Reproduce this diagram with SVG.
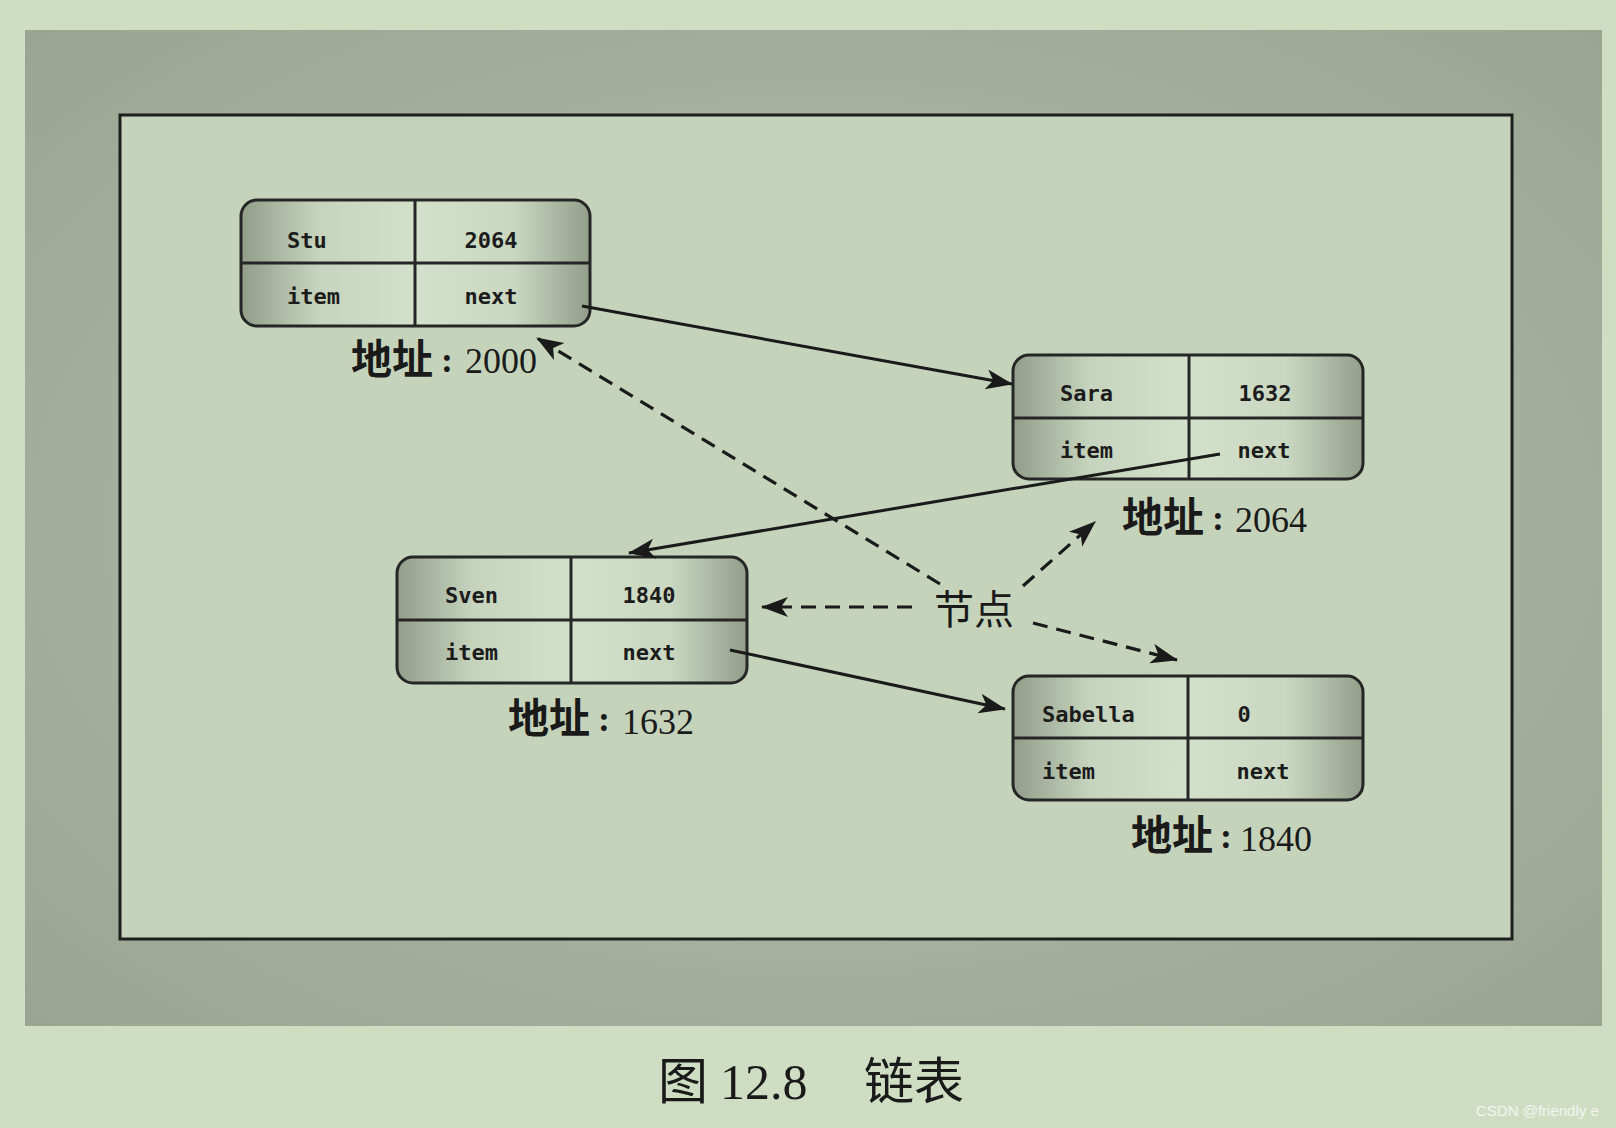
<svg xmlns="http://www.w3.org/2000/svg" width="1616" height="1128" viewBox="0 0 1616 1128">
<style>
.cell{font-family:"DejaVu Sans Mono","Liberation Mono",monospace;font-size:22px;font-weight:bold;fill:#1c1c1c}
.cjk{font-family:"Noto Sans CJK SC",sans-serif;font-weight:bold;font-size:41px;fill:#1a1a1a}
.colon{font-family:"Liberation Serif",serif;font-weight:bold;font-size:36px;fill:#1a1a1a}
.num{font-family:"Liberation Serif",serif;font-size:36px;fill:#1a1a1a}
.box{stroke:#262626;stroke-width:3;fill:url(#nodeGrad)}
.div{stroke:#262626;stroke-width:3}
.solid{stroke:#1a1a1a;stroke-width:3;fill:none;marker-end:url(#arrow)}
.dash{stroke:#1a1a1a;stroke-width:3.2;fill:none;stroke-dasharray:15 9;marker-end:url(#arrow)}
</style>
<defs>
<linearGradient id="nodeGrad" x1="0" y1="0" x2="1" y2="0">
<stop offset="0" stop-color="#929d8a"/>
<stop offset="0.22" stop-color="#c6d4bd"/>
<stop offset="0.5" stop-color="#d3e1ca"/>
<stop offset="0.78" stop-color="#cad8c1"/>
<stop offset="1" stop-color="#939e8b"/>
</linearGradient>
<radialGradient id="frameGrad" cx="0.5" cy="0.5" r="0.75">
<stop offset="0.55" stop-color="#a6b09e"/>
<stop offset="1" stop-color="#98a390"/>
</radialGradient>
<marker id="arrow" markerUnits="userSpaceOnUse" markerWidth="30" markerHeight="22" refX="26" refY="10" orient="auto">
<path d="M0,0 L27,10 L0,20 L7,10 z" fill="#1a1a1a"/>
</marker>
</defs>
<rect x="0" y="0" width="1616" height="1128" fill="#cfdec3"/>
<rect x="25" y="30" width="1577" height="996" fill="url(#frameGrad)"/>
<rect x="120" y="115" width="1392" height="824" fill="#c5d3bb" stroke="#1e1e1e" stroke-width="3"/>

<g id="node-stu">
<rect class="box" x="241" y="200" width="349" height="126" rx="16"/>
<line class="div" x1="415" y1="200" x2="415" y2="326"/>
<line class="div" x1="241" y1="263" x2="590" y2="263"/>
<text class="cell" x="287" y="248">Stu</text>
<text class="cell" x="491" y="248" text-anchor="middle">2064</text>
<text class="cell" x="287" y="304">item</text>
<text class="cell" x="491" y="304" text-anchor="middle">next</text>
<text class="cjk" x="351" y="374">地址</text>
<text class="colon" x="441" y="372">:</text>
<text class="num" x="465" y="373">2000</text>
</g>

<g id="node-sara">
<rect class="box" x="1013" y="355" width="350" height="124" rx="16"/>
<line class="div" x1="1189" y1="355" x2="1189" y2="479"/>
<line class="div" x1="1013" y1="418" x2="1363" y2="418"/>
<text class="cell" x="1060" y="401">Sara</text>
<text class="cell" x="1265" y="401" text-anchor="middle">1632</text>
<text class="cell" x="1060" y="458">item</text>
<text class="cell" x="1264" y="458" text-anchor="middle">next</text>
<text class="cjk" x="1122" y="532">地址</text>
<text class="colon" x="1212" y="530">:</text>
<text class="num" x="1235" y="532">2064</text>
</g>

<g id="node-sven">
<rect class="box" x="397" y="557" width="350" height="126" rx="16"/>
<line class="div" x1="571" y1="557" x2="571" y2="683"/>
<line class="div" x1="397" y1="620" x2="747" y2="620"/>
<text class="cell" x="445" y="603">Sven</text>
<text class="cell" x="649" y="603" text-anchor="middle">1840</text>
<text class="cell" x="445" y="660">item</text>
<text class="cell" x="649" y="660" text-anchor="middle">next</text>
<text class="cjk" x="508" y="733">地址</text>
<text class="colon" x="598" y="731">:</text>
<text class="num" x="622" y="734">1632</text>
</g>

<g id="node-sabella">
<rect class="box" x="1013" y="676" width="350" height="124" rx="16"/>
<line class="div" x1="1188" y1="676" x2="1188" y2="800"/>
<line class="div" x1="1013" y1="738" x2="1363" y2="738"/>
<text class="cell" x="1042" y="722">Sabella</text>
<text class="cell" x="1244" y="722" text-anchor="middle">0</text>
<text class="cell" x="1042" y="779">item</text>
<text class="cell" x="1263" y="779" text-anchor="middle">next</text>
<text class="cjk" x="1131" y="850">地址</text>
<text class="colon" x="1220" y="848">:</text>
<text class="num" x="1240" y="851">1840</text>
</g>

<g id="connectors">
<line class="solid" x1="582" y1="306" x2="1012" y2="384"/>
<line class="solid" x1="1220" y1="454" x2="629" y2="553"/>
<line class="solid" x1="730" y1="650" x2="1005" y2="709"/>
<line class="dash" x1="940" y1="584" x2="537" y2="338"/>
<line class="dash" x1="912" y1="607" x2="762" y2="607"/>
<line class="dash" x1="1023" y1="586" x2="1095" y2="522"/>
<line class="dash" x1="1033" y1="623" x2="1177" y2="660"/>
</g>

<g id="label-node">
<text x="934" y="624" font-family="Noto Sans CJK SC, sans-serif" font-size="40" fill="#1a1a1a">节点</text>
</g>

<g id="caption">
<text y="1099" font-size="50" fill="#1a1a1a"><tspan x="658" font-family="Noto Sans CJK SC, sans-serif">图</tspan><tspan x="720" font-family="Liberation Serif, serif">12.8</tspan><tspan x="864" font-family="Noto Sans CJK SC, sans-serif">链表</tspan></text>
<text x="1476" y="1116" font-family="Liberation Sans, sans-serif" font-size="15" fill="#f2f5ef">CSDN @friendly e</text>
</g>
</svg>
